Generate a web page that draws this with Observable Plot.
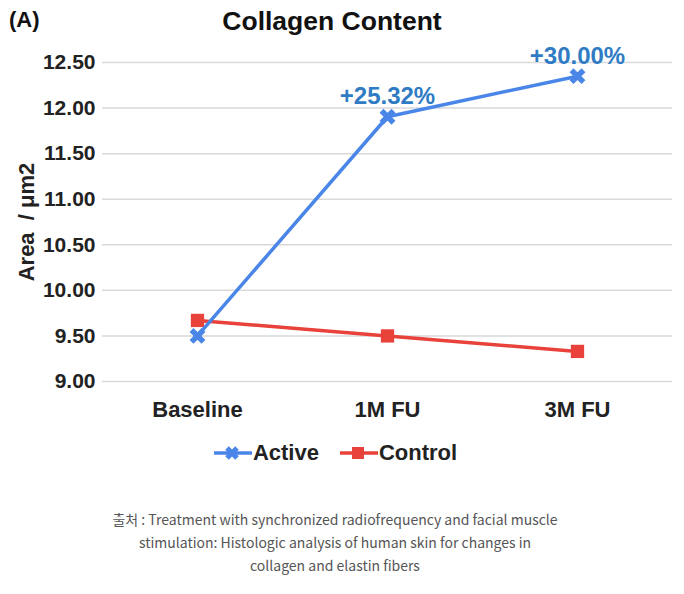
<!DOCTYPE html>
<html>
<head>
<meta charset="utf-8">
<script src="https://cdn.jsdelivr.net/npm/d3@7"></script>
<script src="https://cdn.jsdelivr.net/npm/@observablehq/plot@0.6"></script>
<style>
  body { margin: 0; background: #fff; }
  #wrap { position: relative; width: 684px; height: 594px; overflow: hidden; font-family: "Liberation Sans", Arial, sans-serif; }
  #panel { position: absolute; left: 9px; top: 7px; font-weight: bold; font-size: 22px; color: #111; }
  #title { position: absolute; left: 0; top: 6px; width: 664px; text-align: center; font-weight: bold; font-size: 26.5px; color: #111; }
  #chart { position: absolute; left: 0; top: 40px; }
  #legend { position: absolute; left: 0; top: 440px; width: 670px; display: flex; justify-content: center; gap: 20px; font-weight: bold; font-size: 22px; color: #222; }
  #legend .item { display: flex; align-items: center; }
  #caption { position: absolute; left: 0; top: 508px; width: 670px; text-align: center; font-family: "Noto Sans CJK KR", "Noto Sans", sans-serif; font-size: 14px; line-height: 23px; color: #555; }
</style>
</head>
<body>
<div id="wrap">
  <div id="panel">(A)</div>
  <div id="title">Collagen Content</div>
  <div id="chart"></div>
  <div id="legend"></div>
  <div id="caption">출처 : Treatment with synchronized radiofrequency and facial muscle<br>stimulation: Histologic analysis of human skin for changes in<br>collagen and elastin fibers</div>
</div>
<script>
const categories = ["Baseline", "1M FU", "3M FU"];
const activeValues = [9.50, 11.905, 12.35];
const controlValues = [9.67, 9.50, 9.33];
const activeLabels = ["", "+25.32%", "+30.00%"];
const seriesNames = ["Active", "Control"];
const seriesColors = ["#4a86e8", "#e8423a"];
const yTicks = [9.0, 9.5, 10.0, 10.5, 11.0, 11.5, 12.0, 12.5];
const yLabel = "Area  / μm2";

const rows = [];
categories.forEach((c, i) => {
  rows.push({cat: c, series: "Active", value: activeValues[i], label: activeLabels[i]});
  rows.push({cat: c, series: "Control", value: controlValues[i], label: ""});
});
const active = rows.filter(d => d.series === "Active");
const control = rows.filter(d => d.series === "Control");

const plot = Plot.plot({
  width: 684,
  height: 382,
  marginLeft: 102,
  marginRight: 12,
  marginTop: 22,
  marginBottom: 41,
  style: { fontFamily: "Liberation Sans, Arial, sans-serif", fontSize: "21px", fontWeight: "bold", color: "#222", background: "transparent", overflow: "visible" },
  x: { type: "point", domain: categories, padding: 0.5 },
  y: { domain: [9, 12.5] },
  color: { domain: seriesNames, range: seriesColors },
  marks: [
    Plot.gridY(yTicks, { stroke: "#d9d9d9", strokeOpacity: 1, strokeWidth: 1.5 }),
    Plot.axisY(yTicks, { tickSize: 0, tickPadding: 7, tickFormat: d3.format(".2f"), label: null, fill: "#222", fontSize: 21 }),
    Plot.axisY(yTicks, { tickSize: 0, tickFormat: () => "", label: yLabel, labelAnchor: "center", labelArrow: "none", labelOffset: 84, fill: "#222", fontSize: 22 }),
    Plot.axisX({ tickSize: 0, tickPadding: 20, label: null, fill: "#222", fontSize: 22 }),
    Plot.line(control, { x: "cat", y: "value", stroke: "series", strokeWidth: 3.5 }),
    Plot.dot(control, { x: "cat", y: "value", fill: "series", symbol: "square", r: 7.5 }),
    Plot.line(active, { x: "cat", y: "value", stroke: "series", strokeWidth: 3.5 }),
    Plot.dot(active, { x: "cat", y: "value", stroke: "series", symbol: "times", r: 5.5, strokeWidth: 5.5 }),
    Plot.text(active, { x: "cat", y: "value", text: "label", dy: -20, fill: "#2f7bc4", fontSize: 24, fontWeight: "bold" })
  ]
});
document.getElementById("chart").appendChild(plot);

const legend = document.getElementById("legend");
seriesNames.forEach((name, i) => {
  const item = document.createElement("div");
  item.className = "item";
  const col = seriesColors[i];
  const marker = i === 0
    ? `<path d="M14,5 L24,15 M24,5 L14,15" stroke="${col}" stroke-width="5"/>`
    : `<rect x="13" y="4" width="12" height="12" fill="${col}"/>`;
  item.innerHTML = `<svg width="40" height="20"><line x1="1" x2="39" y1="10" y2="10" stroke="${col}" stroke-width="3.5"/>${marker}</svg><span>${name}</span>`;
  legend.appendChild(item);
});
</script>
</body>
</html>
